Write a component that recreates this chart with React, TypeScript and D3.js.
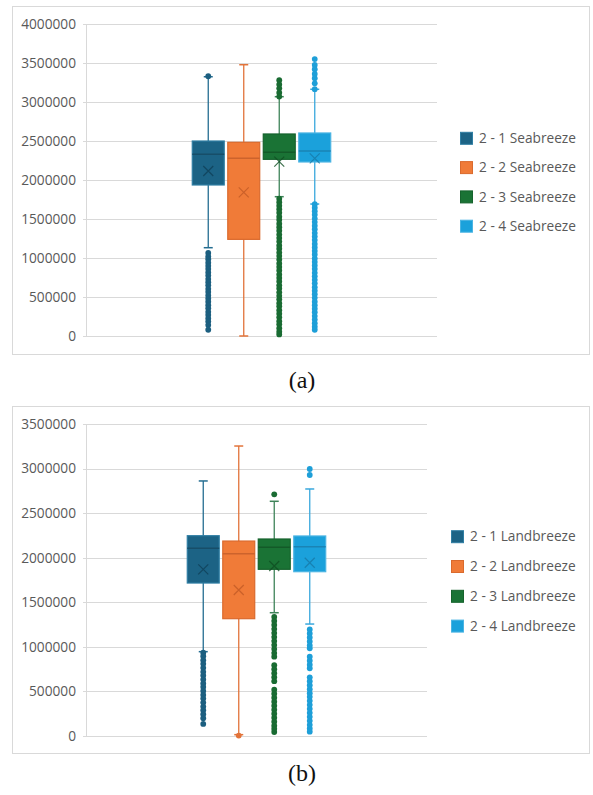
import React from "react";
import * as d3 from "d3";

// ---- data --------------------------------------------------------------
const seabreezeNames = ["2 - 1 Seabreeze", "2 - 2 Seabreeze", "2 - 3 Seabreeze", "2 - 4 Seabreeze"];
const landbreezeNames = ["2 - 1 Landbreeze", "2 - 2 Landbreeze", "2 - 3 Landbreeze", "2 - 4 Landbreeze"];

// [lower whisker, Q1, median, Q3, upper whisker, mean]
const seabreezeStats = [
  [1132000, 1936000, 2329000, 2500000, 3324000, 2115000],
  [0, 1239000, 2278000, 2483000, 3478000, 1842000],
  [1786000, 2265000, 2355000, 2590000, 3068000, 2235000],
  [1692000, 2231000, 2372000, 2603000, 3163000, 2278000],
];
const landbreezeStats = [
  [946000, 1716000, 2105000, 2247000, 2861000, 1870000],
  [15000, 1316000, 2045000, 2187000, 3253000, 1638000],
  [1383000, 1870000, 2117000, 2210000, 2633000, 1907000],
  [1256000, 1843000, 2124000, 2244000, 2771000, 1944000],
];

const seabreezeOutliers = [
  [3330000, 1065000, 1020000, 985000, 940000, 900000, 860000, 815000, 775000, 730000, 690000, 650000, 605000,
    565000, 520000, 480000, 440000, 395000, 355000, 310000, 270000, 225000, 185000, 140000, 80000],
  [],
  [3280000, 3225000, 3175000, 3120000, 3070000,
    1760000, 1715000, 1670000, 1625000, 1580000, 1530000, 1490000, 1440000, 1395000, 1350000, 1300000, 1255000,
    1210000, 1160000, 1120000, 1070000, 1025000, 980000, 930000, 885000, 840000, 790000, 745000, 700000, 650000,
    610000, 560000, 515000, 470000, 420000, 380000, 330000, 285000, 240000, 190000, 150000, 100000, 55000, 20000],
  [3550000, 3475000, 3420000, 3360000, 3305000, 3240000, 3165000,
    1690000, 1645000, 1600000, 1555000, 1505000, 1460000, 1415000, 1370000, 1320000, 1275000, 1230000, 1180000,
    1135000, 1090000, 1045000, 995000, 950000, 905000, 860000, 810000, 765000, 720000, 675000, 625000, 580000,
    535000, 490000, 440000, 395000, 350000, 305000, 255000, 210000, 165000, 120000, 80000],
];
const landbreezeOutliers = [
  [935000, 895000, 850000, 810000, 765000, 720000, 680000, 635000, 590000, 550000, 505000, 460000, 420000,
    375000, 330000, 290000, 245000, 200000, 135000],
  [5000],
  [2711000,
    1335000, 1290000, 1245000, 1200000, 1155000, 1110000, 1065000, 1020000, 975000, 930000, 890000,
    795000, 750000, 705000, 660000, 615000,
    520000, 475000, 430000, 385000, 340000, 295000, 250000, 205000, 160000, 115000, 80000, 45000],
  [2995000, 2928000,
    1196000, 1150000, 1105000, 1060000, 1015000, 983000,
    890000, 845000, 800000, 760000,
    658000, 615000, 570000, 525000, 480000, 440000, 395000, 350000, 305000, 260000, 215000, 170000, 125000,
    85000, 48000],
];

const seabreezeTicks = [0, 500000, 1000000, 1500000, 2000000, 2500000, 3000000, 3500000, 4000000];
const landbreezeTicks = [0, 500000, 1000000, 1500000, 2000000, 2500000, 3000000, 3500000];

// ---- styling -------------------------------------------------------------
const palette = [
  { fill: "#1C6385", edge: "#2F7EA3", median: "#174E69", mean: "#0F4058", whisker: "#246D91", dot: "#1C5F80" },
  { fill: "#F07B38", edge: "#DA6A2D", median: "#CC632C", mean: "#C25A25", whisker: "#E2733A", dot: "#E2733A" },
  { fill: "#1A7335", edge: "#16632D", median: "#135A28", mean: "#0F4E22", whisker: "#3F845A", dot: "#196B32" },
  { fill: "#1BA1DB", edge: "#4BB4E3", median: "#1A84B5", mean: "#1679A8", whisker: "#3AA8DD", dot: "#1E9FD8" },
];
const FONT = "'Open Sans', 'Noto Sans', sans-serif";
const TEXT = "#595959";
const GRID = "#D9D9D9";

type PanelProps = {
  frameTop: number;
  frameBottom: number;
  yTop: number;
  yBottom: number;
  yMax: number;
  ticks: number[];
  plotRight: number;
  names: string[];
  stats: number[][];
  outliers: number[][];
  legendX: number;
  legendY: number;
  legendStep: number;
  caption: string;
  captionY: number;
};

function BoxPanel(p: PanelProps) {
  const plotLeft = 86;
  const y = d3.scaleLinear().domain([0, p.yMax]).range([p.yBottom, p.yTop]);
  const center = (plotLeft + p.plotRight) / 2;
  const groupHalf = 71;
  const x = d3
    .scaleBand<string>()
    .domain(p.names)
    .range([center - groupHalf, center + groupHalf])
    .paddingInner(0.1)
    .paddingOuter(0.05);
  const bw = x.bandwidth();
  const cap = 9;
  const xs = 5;

  return (
    <g>
      <rect x={12.5} y={p.frameTop + 0.5} width={577} height={p.frameBottom - p.frameTop} fill="#fff" stroke={GRID} />
      {p.ticks.map((t) => (
        <g key={t}>
          <line x1={plotLeft - 3} x2={p.plotRight} y1={Math.round(y(t)) + 0.5} y2={Math.round(y(t)) + 0.5} stroke={GRID} />
          <text x={76} y={y(t)} dy="0.35em" textAnchor="end" fontFamily={FONT} fontSize={13.7} fill={TEXT}>
            {t}
          </text>
        </g>
      ))}
      <line x1={plotLeft + 0.5} x2={plotLeft + 0.5} y1={p.yTop} y2={p.yBottom} stroke={GRID} />

      {p.names.map((name, i) => {
        const [lo, q1, med, q3, hi, mean] = p.stats[i];
        const c = palette[i];
        const x0 = x(name)!;
        const cx = x0 + bw / 2;
        return (
          <g key={name}>
            <line x1={cx} x2={cx} y1={y(hi)} y2={y(lo)} stroke={c.whisker} strokeWidth={1.3} />
            <line x1={cx - cap / 2} x2={cx + cap / 2} y1={y(hi)} y2={y(hi)} stroke={c.whisker} strokeWidth={1.5} />
            <line x1={cx - cap / 2} x2={cx + cap / 2} y1={y(lo)} y2={y(lo)} stroke={c.whisker} strokeWidth={1.5} />
            <rect x={x0} y={y(q3)} width={bw} height={y(q1) - y(q3)} fill={c.fill} stroke={c.edge} strokeWidth={1.2} />
            <line x1={x0} x2={x0 + bw} y1={y(med)} y2={y(med)} stroke={c.median} strokeWidth={1.5} />
            <path
              d={`M${cx - xs},${y(mean) - xs}L${cx + xs},${y(mean) + xs}M${cx - xs},${y(mean) + xs}L${cx + xs},${y(mean) - xs}`}
              stroke={c.mean}
              strokeOpacity={0.8}
              strokeWidth={1.2}
              fill="none"
            />
            {p.outliers[i].map((v, k) => (
              <circle key={k} cx={cx} cy={y(v)} r={2.9} fill={c.dot} />
            ))}
          </g>
        );
      })}

      {p.names.map((name, i) => {
        const cy = p.legendY + i * p.legendStep;
        return (
          <g key={"lg" + name}>
            <rect x={p.legendX + 0.5} y={cy - 6} width={12} height={12} fill={palette[i].fill} stroke={palette[i].edge} />
            <text x={p.legendX + 19} y={cy} dy="0.35em" fontFamily={FONT} fontSize={13.7} fill={TEXT}>
              {name}
            </text>
          </g>
        );
      })}

      <text x={302} y={p.captionY} dy="0.35em" textAnchor="middle" fontFamily="'Liberation Serif', 'DejaVu Serif', serif" fontSize={24} fill="#111">
        {p.caption}
      </text>
    </g>
  );
}

export default function App() {
  return (
    <svg width={593} height={795} style={{ position: "absolute", left: 0, top: 0, background: "#fff" }}>
      <rect width={593} height={795} fill="#fff" />
      <BoxPanel
        frameTop={6}
        frameBottom={354}
        yTop={24}
        yBottom={336}
        yMax={4000000}
        ticks={seabreezeTicks}
        plotRight={437}
        names={seabreezeNames}
        stats={seabreezeStats}
        outliers={seabreezeOutliers}
        legendX={460}
        legendY={138.3}
        legendStep={29.3}
        caption="(a)"
        captionY={380}
      />
      <BoxPanel
        frameTop={406}
        frameBottom={753}
        yTop={424}
        yBottom={736}
        yMax={3500000}
        ticks={landbreezeTicks}
        plotRight={427}
        names={landbreezeNames}
        stats={landbreezeStats}
        outliers={landbreezeOutliers}
        legendX={451}
        legendY={536.7}
        legendStep={29.8}
        caption="(b)"
        captionY={773}
      />
    </svg>
  );
}
